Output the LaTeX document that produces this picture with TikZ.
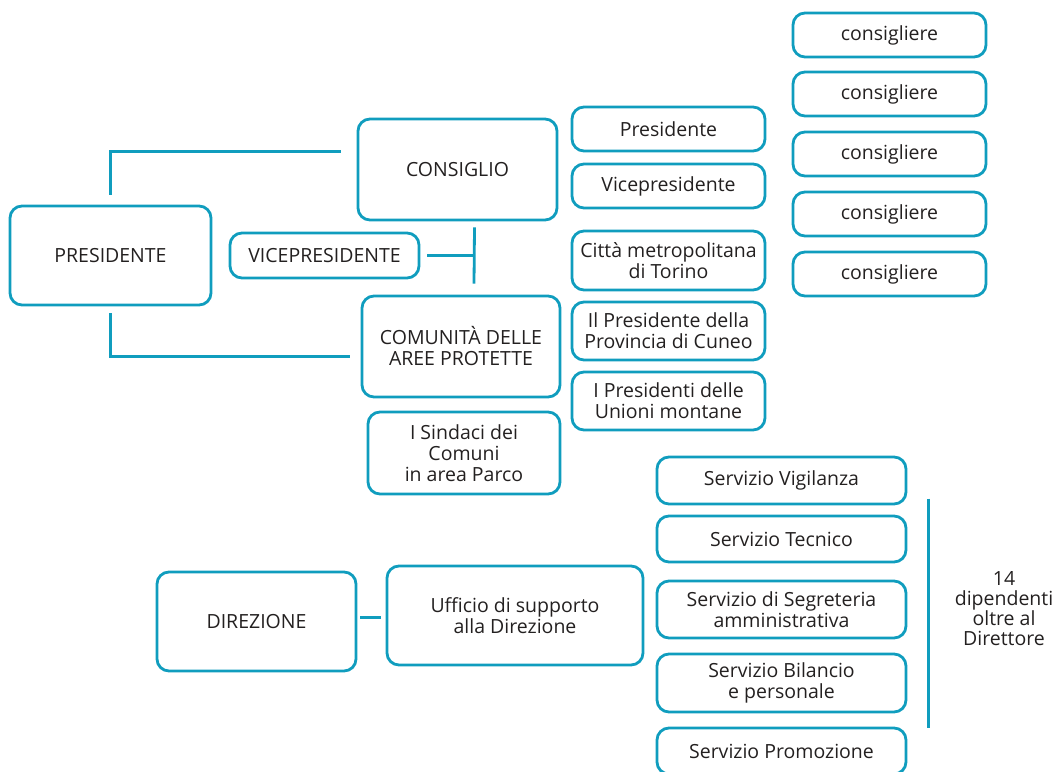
\documentclass[tikz,border=0pt]{standalone}
\usepackage{fontspec}
\setmainfont{Open Sans}
\definecolor{linea}{RGB}{16,157,190}
\definecolor{testo}{RGB}{35,32,32}
\tikzset{
  casella/.style={draw=linea, line width=2.8pt, rounded corners=12pt, align=center,
    text=testo, font=\fontsize{19.5}{21}\selectfont, inner sep=0pt},
  filo/.style={draw=linea, line width=2.8pt},
}

\begin{document}
\begin{tikzpicture}[x=1pt,y=-1pt]
	\useasboundingbox (0,0) rectangle (1054,771);
	
	%--- Organi ---
	\node[casella, minimum width=201, minimum height=99] (pres) at (110.5,255.5) {PRESIDENTE};
	\node[casella, minimum width=199, minimum height=101] (consiglio) at (457.5,169.5) {CONSIGLIO};
	\node[casella, minimum width=189, minimum height=45] (vice) at (324.5,255.5) {VICEPRESIDENTE};
	\node[casella, minimum width=198, minimum height=101] (com) at (461,346.5) {COMUNITÀ DELLE\\AREE PROTETTE};
	\node[casella, minimum width=192, minimum height=82] (sindaci) at (464,453) {I Sindaci dei\\Comuni\\in area Parco};
	
	%--- Composizione ---
	\def\colx{668.5}
	\node[casella, minimum width=193, minimum height=44] (cpres) at (\colx,129) {Presidente};
	\node[casella, minimum width=193, minimum height=44] (cvice) at (\colx,186) {Vicepresidente};
	\node[casella, minimum width=193, minimum height=59] (torino) at (\colx,260.5) {Città metropolitana\\di Torino};
	\node[casella, minimum width=193, minimum height=58] (cuneo) at (\colx,331) {Il Presidente della\\Provincia di Cuneo};
	\node[casella, minimum width=193, minimum height=58] (unioni) at (\colx,401) {I Presidenti delle\\Unioni montane};
	
	%--- Consiglieri ---
	\foreach \y [count=\i] in {35,94,154,214,274} {
		\node[casella, minimum width=193, minimum height=44] (csg\i) at (889.5,\y) {consigliere};
	}
	
	%--- Direzione ---
	\node[casella, minimum width=199, minimum height=99] (dir) at (256.5,621.5) {DIREZIONE};
	\node[casella, minimum width=256, minimum height=99] (uff) at (515,615.5) {Ufficio di supporto\\alla Direzione};
	
	%--- Servizi ---
	\def\serx{781.5}
	\node[casella, minimum width=249, minimum height=47] (vig) at (\serx,480.5) {Servizio Vigilanza};
	\node[casella, minimum width=249, minimum height=46] (tec) at (\serx,539) {Servizio Tecnico};
	\node[casella, minimum width=249, minimum height=57] (seg) at (\serx,609.5) {Servizio di Segreteria\\amministrativa};
	\node[casella, minimum width=249, minimum height=58] (bil) at (\serx,683) {Servizio Bilancio\\e personale};
	\node[casella, minimum width=249, minimum height=46] (prom) at (\serx,751) {Servizio Promozione};
	\node[align=center, text=testo, font=\fontsize{19.5}{20}\selectfont, inner sep=0pt] (nota) at (1004,609) {14\\dipendenti\\oltre al\\Direttore};
	
	%--- Collegamenti ---
	\draw[filo] ([yshift=10pt]pres.north) |- ([xshift=-16pt,yshift=18pt]consiglio.west);
	\draw[filo] ([yshift=-7pt]pres.south) |- ([xshift=-11pt,yshift=-10pt]com.west);
	\draw[filo] ([xshift=7pt]vice.east) -- ([xshift=55pt]vice.east);
	\draw[filo] ([xshift=17pt,yshift=-6pt]consiglio.south) -- ([xshift=13pt,yshift=11pt]com.north);
	\draw[filo] ([xshift=3pt,yshift=4pt]dir.east) -- ([xshift=-5pt,yshift=-2pt]uff.west);
	\draw[filo] ([xshift=21pt,yshift=-18pt]vig.east) -- ([xshift=21pt,yshift=23pt]prom.east);
	
\end{tikzpicture}
\end{document}
